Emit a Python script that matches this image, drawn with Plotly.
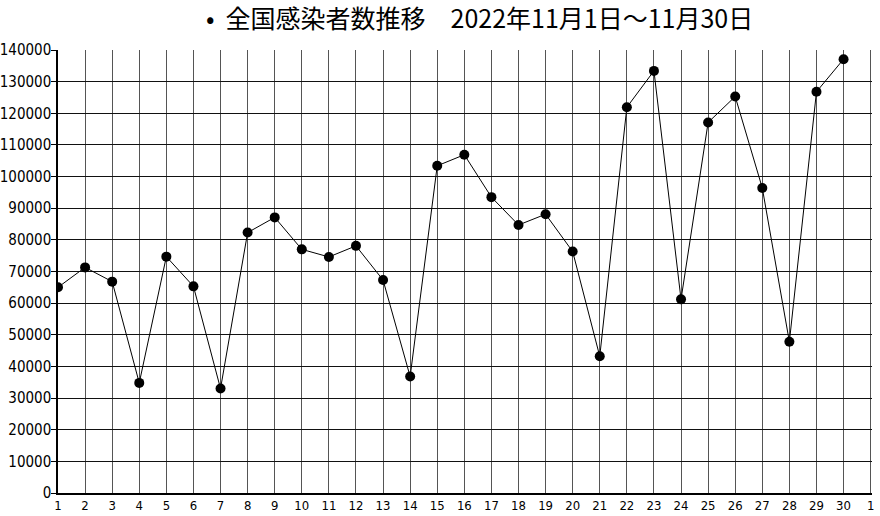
import plotly.graph_objects as go

days = list(range(1, 31))
cases = [65000, 71300, 66800, 34800, 74700, 65300, 33000, 82300, 87100, 77000,
         74600, 78100, 67300, 36800, 103400, 106900, 93500, 84700, 88100, 76300,
         43200, 121900, 133400, 61200, 117100, 125300, 96400, 47800, 126800, 137100]
x_tick_vals = list(range(1, 32))
x_tick_text = [str(d) for d in range(1, 31)] + ["1"]
y_tick_vals = list(range(0, 140001, 10000))
y_tick_text = [str(v) for v in y_tick_vals]
title_text = "•  全国感染者数推移　2022年11月1日～11月30日"

FONT = "DejaVu Sans Condensed, Noto Sans CJK JP, sans-serif"

fig = go.Figure()
fig.add_trace(go.Scatter(
    x=days, y=cases, mode="lines+markers",
    line=dict(color="black", width=1),
    marker=dict(color="black", size=10),
    showlegend=False, hoverinfo="skip",
))

fig.update_layout(
    width=880, height=516,
    margin=dict(l=58, r=8, t=50, b=23, autoexpand=False),
    paper_bgcolor="white", plot_bgcolor="white",
    font=dict(family=FONT, color="black"),
    title=dict(text=title_text, x=0.545, xanchor="center", y=0.962, yanchor="middle",
               font=dict(family="Noto Sans CJK JP", size=25, color="black")),
    xaxis=dict(range=[1, 31.05], tickmode="array", tickvals=x_tick_vals, ticktext=x_tick_text,
               showgrid=True, gridcolor="#555555", gridwidth=1,
               showline=True, linecolor="black", linewidth=1.5,
               ticks="", tickfont=dict(size=13, family=FONT), zeroline=False,
               automargin=False, ticklabeloverflow="allow"),
    yaxis=dict(range=[0, 140000], tickmode="array", tickvals=y_tick_vals, ticktext=y_tick_text,
               showgrid=True, gridcolor="#111111", gridwidth=1.3,
               showline=True, linecolor="black", linewidth=1.5,
               ticks="outside", ticklen=5, tickcolor="black",
               tickfont=dict(size=15, family=FONT), zeroline=False,
               ticklabelstandoff=-3,
               automargin=False, ticklabeloverflow="allow"),
)

fig.write_html("out.html", config={"displayModeBar": False},
               post_script="document.body.style.margin='0';")
